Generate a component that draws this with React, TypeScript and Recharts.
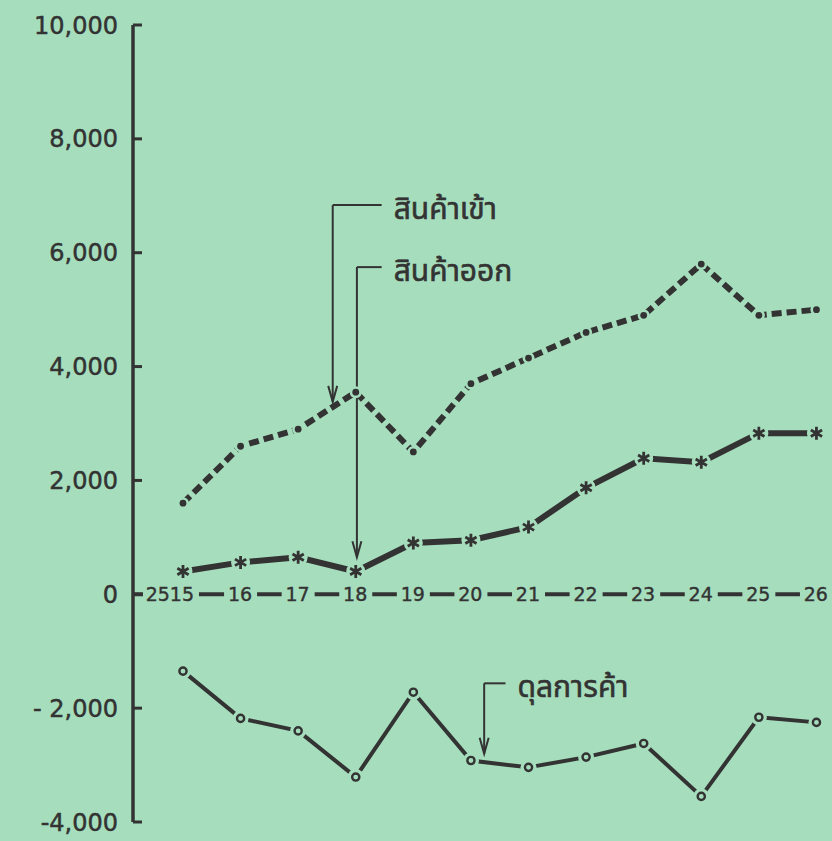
import React from 'react';
import { LineChart, Line, XAxis, YAxis, ReferenceLine, ReferenceDot } from 'recharts';

const BG = '#a6debd';
const INK = '#333333';
const NUM_FONT = '"DejaVu Sans", sans-serif';
const THAI_FONT = '"Noto Sans Thai", "Noto Sans", Loma, Garuda, sans-serif';
const AXIS_W = 133;

const years = [2515, 2516, 2517, 2518, 2519, 2520, 2521, 2522, 2523, 2524, 2525, 2526];
const yearLabels = ['2515', '16', '17', '18', '19', '20', '21', '22', '23', '24', '25', '26'];
// สินค้าเข้า
const imports = [1600, 2600, 2900, 3550, 2500, 3700, 4150, 4600, 4900, 5800, 4900, 5000];
// สินค้าออก
const exportsVals = [400, 560, 650, 400, 900, 950, 1180, 1870, 2390, 2320, 2830, 2830];
// ดุลการค้า
const balance = [-1350, -2180, -2400, -3210, -1720, -2920, -3040, -2860, -2620, -3550, -2160, -2250];
const yTicks = [-4000, -2000, 0, 2000, 4000, 6000, 8000, 10000];

// leader lines: corner x, top y, arrow tip y, end of the short horizontal stroke
const callouts = [
  { label: 'สินค้าเข้า', x: 2517.6, top: 6836, tip: 3380, textX: 2518.45, textY: 6780 },
  { label: 'สินค้าออก', x: 2518.02, top: 5747, tip: 650, textX: 2518.45, textY: 5680 },
  { label: 'ดุลการค้า', x: 2520.23, top: -1564, tip: -2800, textX: 2520.6, textY: -1620 },
];

const data = years.map((y, i) => ({
  year: y,
  imports: imports[i],
  exports: exportsVals[i],
  balance: balance[i],
}));

const fmt = (v: number) => {
  const s = Math.abs(v).toLocaleString('en-US');
  if (v < 0) return v === -2000 ? '- ' + s : '-' + s;
  return s;
};

// ticks point into the plot, like the printed chart
const YTick = (props: any) => {
  const { y, payload } = props;
  return (
    <g>
      <line x1={AXIS_W} x2={AXIS_W + 9} y1={y} y2={y} stroke={INK} strokeWidth={3} />
      <text x={AXIS_W - 15} y={y} dy="0.36em" textAnchor="end" fontFamily={NUM_FONT} fontSize={24}
        fill={INK} stroke={INK} strokeWidth={0.5}>
        {fmt(payload.value)}
      </text>
    </g>
  );
};

const ImportDot = (props: any) => {
  const { cx, cy } = props;
  return (
    <g>
      <circle cx={cx} cy={cy} r={6} fill={BG} />
      <circle cx={cx} cy={cy} r={3.4} fill={INK} />
    </g>
  );
};

const StarDot = (props: any) => {
  const { cx, cy } = props;
  const d = 6.5;
  const dx = d * Math.cos(Math.PI / 6);
  const dy = d * Math.sin(Math.PI / 6);
  return (
    <g>
      <circle cx={cx} cy={cy} r={9.5} fill={BG} />
      <path
        d={`M${cx},${cy - d}L${cx},${cy + d}M${cx - dx},${cy - dy}L${cx + dx},${cy + dy}M${cx - dx},${cy + dy}L${cx + dx},${cy - dy}`}
        stroke={INK}
        strokeWidth={2.8}
      />
    </g>
  );
};

const RingDot = (props: any) => {
  const { cx, cy } = props;
  return (
    <g>
      <circle cx={cx} cy={cy} r={8} fill={BG} />
      <circle cx={cx} cy={cy} r={3.6} fill={BG} stroke={INK} strokeWidth={2.4} />
    </g>
  );
};

const arrowShape = (props: any) => {
  const { cx, cy } = props;
  return (
    <path d={`M${cx - 4.5},${cy - 16}L${cx},${cy}L${cx + 4.5},${cy - 16}`} fill="none" stroke={INK} strokeWidth={2} />
  );
};

const labelShape = (text: string) => (props: any) => {
  const { cx, cy } = props;
  return (
    <text x={cx + 12} y={cy} dy="0.35em" fontFamily={THAI_FONT} fontSize={30} fill={INK}
      stroke={INK} strokeWidth={0.6}>
      {text}
    </text>
  );
};

const yearShape = (label: string, first: boolean) => (props: any) => {
  const { cx, cy } = props;
  const w = label.length * 11.5;
  const right = first ? cx + 11 : cx + w / 2;
  return (
    <g>
      <rect x={right - w - 5} y={cy - 11} width={w + 10} height={22} fill={BG} />
      <text x={right} y={cy} dy="0.36em" textAnchor="end" fontFamily={NUM_FONT} fontSize={19}
        fill={INK} stroke={INK} strokeWidth={0.4}>
        {label}
      </text>
    </g>
  );
};

export default function App() {
  return (
    <div style={{ position: 'absolute', left: 0, top: 0, width: 832, height: 841, background: BG }}>
      <LineChart width={832} height={841} data={data} margin={{ top: 25, right: 0, bottom: 19, left: 0 }}>
        <XAxis type="number" dataKey="year" domain={[2514.132, 2526.27]} hide />
        <YAxis
          type="number"
          domain={[-4000, 10000]}
          ticks={yTicks}
          width={AXIS_W}
          tickSize={0}
          tickMargin={0}
          tickLine={false}
          axisLine={{ stroke: INK, strokeWidth: 3.5 }}
          tick={<YTick />}
          interval={0}
        />
        <ReferenceLine y={0} stroke={INK} strokeWidth={4} />
        {years.map((yr, i) => (
          <ReferenceDot key={yr} x={yr} y={0} r={0} shape={yearShape(yearLabels[i], i === 0)} />
        ))}
        {callouts.map((c) => (
          <ReferenceLine
            key={c.label + 'v'}
            segment={[{ x: c.x, y: c.top }, { x: c.x, y: c.tip }]}
            stroke={INK}
            strokeWidth={2}
          />
        ))}
        {callouts.map((c) => (
          <ReferenceLine
            key={c.label + 'h'}
            segment={[{ x: c.x, y: c.top }, { x: c.textX, y: c.top }]}
            stroke={INK}
            strokeWidth={2}
          />
        ))}
        {callouts.map((c) => (
          <ReferenceDot key={c.label + 'a'} x={c.x} y={c.tip} r={0} shape={arrowShape} />
        ))}
        {callouts.map((c) => (
          <ReferenceDot key={c.label + 't'} x={c.textX} y={c.textY} r={0} shape={labelShape(c.label)} />
        ))}
        <Line
          dataKey="imports"
          stroke={INK}
          strokeWidth={6}
          strokeDasharray="10 5"
          dot={<ImportDot />}
          activeDot={false}
          isAnimationActive={false}
        />
        <Line
          dataKey="exports"
          stroke={INK}
          strokeWidth={6}
          dot={<StarDot />}
          activeDot={false}
          isAnimationActive={false}
        />
        <Line
          dataKey="balance"
          stroke={INK}
          strokeWidth={4}
          dot={<RingDot />}
          activeDot={false}
          isAnimationActive={false}
        />
      </LineChart>
    </div>
  );
}
